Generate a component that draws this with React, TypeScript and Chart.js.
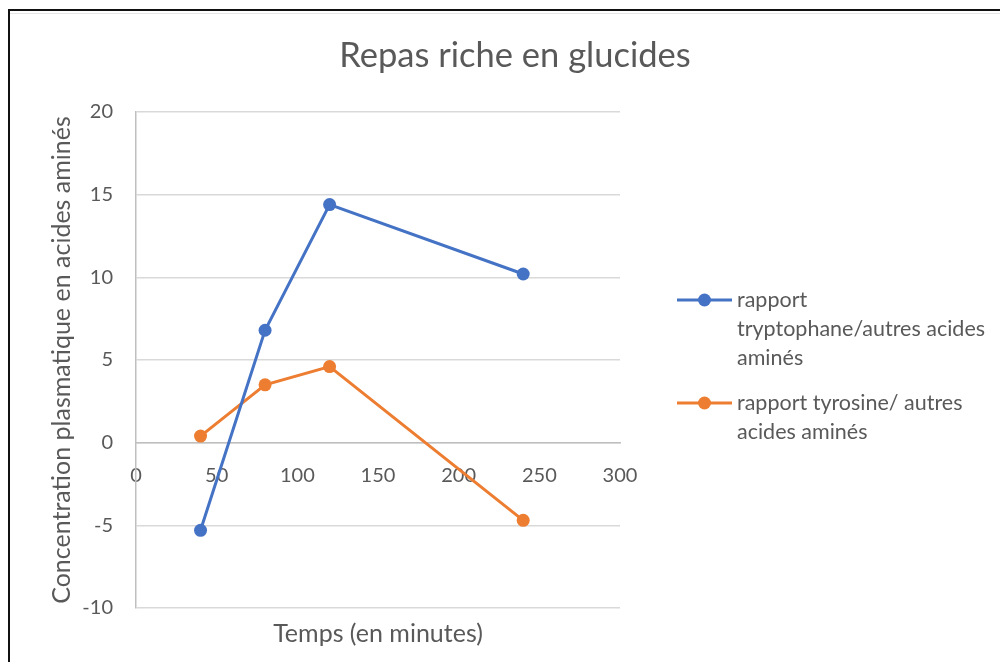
import React, { useEffect, useRef } from "react";
import { Chart, registerables } from "chart.js";

Chart.register(...registerables);

const titleText = "Repas riche en glucides";
const xTitle = "Temps (en minutes)";
const yTitle = "Concentration plasmatique en acides aminés";
const times = [40, 80, 120, 240];
const tryptophane = [-5.3, 6.8, 14.4, 10.2];
const tyrosine = [0.4, 3.5, 4.6, -4.7];
const seriesLabels = [
  ["rapport", "tryptophane/autres acides", "aminés"],
  ["rapport tyrosine/ autres", "acides aminés"],
];
const seriesColors = ["#4472C4", "#ED7D31"];

const FONT = "Lato";
const TEXT = "#595959";

const frame = {
  id: "frame",
  beforeDraw(chart: any) {
    const ctx = chart.ctx;
    ctx.save();
    ctx.fillStyle = "#ffffff";
    ctx.fillRect(0, 0, chart.width, chart.height);
    ctx.strokeStyle = "#e6e6e6";
    ctx.lineWidth = 1;
    ctx.beginPath();
    ctx.moveTo(10, 13.5);
    ctx.lineTo(chart.width, 13.5);
    ctx.stroke();
    ctx.strokeStyle = "#111111";
    ctx.lineWidth = 2;
    ctx.beginPath();
    ctx.moveTo(chart.width, 10);
    ctx.lineTo(9, 10);
    ctx.lineTo(9, chart.height);
    ctx.stroke();
    ctx.restore();
  },
};

const sideLegend = {
  id: "sideLegend",
  afterDraw(chart: any) {
    const ctx = chart.ctx;
    const lineX0 = 677;
    const lineX1 = 732;
    const textX = 737;
    const lineGap = 29;
    const entryGap = 45;
    let y = 300;
    ctx.save();
    chart.data.datasets.forEach((ds: any) => {
      const color = ds.borderColor;
      ctx.strokeStyle = color;
      ctx.lineWidth = 3;
      ctx.beginPath();
      ctx.moveTo(lineX0, y);
      ctx.lineTo(lineX1, y);
      ctx.stroke();
      ctx.fillStyle = color;
      ctx.beginPath();
      ctx.arc((lineX0 + lineX1) / 2, y, 6.5, 0, Math.PI * 2);
      ctx.fill();
      ctx.fillStyle = TEXT;
      ctx.font = `21.5px ${FONT}`;
      ctx.textAlign = "left";
      ctx.textBaseline = "middle";
      const lines: string[] = ds.label;
      lines.forEach((l, i) => {
        ctx.fillText(l, textX, y + i * lineGap);
      });
      y += (lines.length - 1) * lineGap + entryGap;
    });
    ctx.restore();
  },
};

export default function App() {
  const ref = useRef<HTMLCanvasElement | null>(null);
  useEffect(() => {
    document.body.style.margin = "0";
    if (!ref.current) return;
    const chart = new Chart(ref.current, {
      type: "scatter",
      data: {
        datasets: [
          {
            label: seriesLabels[0] as any,
            data: times.map((t, i) => ({ x: t, y: tryptophane[i] })),
            borderColor: seriesColors[0],
            backgroundColor: seriesColors[0],
            showLine: true,
            borderWidth: 3,
            pointRadius: 6.5,
            pointBorderWidth: 0,
            pointBackgroundColor: seriesColors[0],
          },
          {
            label: seriesLabels[1] as any,
            data: times.map((t, i) => ({ x: t, y: tyrosine[i] })),
            borderColor: seriesColors[1],
            backgroundColor: seriesColors[1],
            showLine: true,
            borderWidth: 3,
            pointRadius: 6.5,
            pointBorderWidth: 0,
            pointBackgroundColor: seriesColors[1],
          },
        ],
      },
      options: {
        responsive: false,
        animation: false,
        devicePixelRatio: 1,
        layout: { padding: { left: 30, right: 0, top: 0, bottom: 9 } },
        plugins: {
          legend: { display: false },
          tooltip: { enabled: false },
          title: {
            display: true,
            text: titleText,
            color: TEXT,
            font: { family: FONT, size: 34.5, weight: "normal" },
            padding: { top: 35, bottom: 35.6 },
          },
        },
        scales: {
          x: {
            type: "linear",
            position: { y: 0 } as any,
            min: 0,
            max: 300,
            ticks: {
              stepSize: 50,
              color: TEXT,
              padding: 21,
              font: { family: FONT, size: 20 },
            },
            grid: { display: false, drawTicks: false },
            border: { display: true, color: "#bfbfbf", width: 1.5 },
          },
          xt: {
            type: "linear",
            position: "bottom",
            min: 0,
            max: 300,
            ticks: { display: false },
            grid: { display: false, drawTicks: false },
            border: { display: false },
            title: {
              display: true,
              text: xTitle,
              color: TEXT,
              font: { family: FONT, size: 25 },
              padding: { top: 11, bottom: 4 },
            },
          },
          y: {
            type: "linear",
            position: "left",
            min: -10,
            max: 20,
            ticks: {
              stepSize: 5,
              color: TEXT,
              padding: 23,
              font: { family: FONT, size: 20 },
            },
            grid: { color: "#d9d9d9", lineWidth: 1.5, drawTicks: false },
            border: { display: true, color: "#bfbfbf", width: 1.5 },
            title: {
              display: true,
              text: yTitle,
              color: TEXT,
              font: { family: FONT, size: 25 },
              padding: { top: 17, bottom: 0 },
            },
            afterFit: (s: any) => {
              s.width = 106;
            },
          },
          yr: {
            type: "linear",
            position: "right",
            display: true,
            ticks: { display: false },
            grid: { display: false, drawTicks: false },
            border: { display: false },
            afterFit: (s: any) => {
              s.width = 380;
            },
          },
        },
      },
      plugins: [frame, sideLegend],
    } as any);
    return () => chart.destroy();
  }, []);
  return (
    <div style={{ width: 1000, height: 662 }}>
      <canvas ref={ref} width={1000} height={662} style={{ display: "block" }} />
    </div>
  );
}
